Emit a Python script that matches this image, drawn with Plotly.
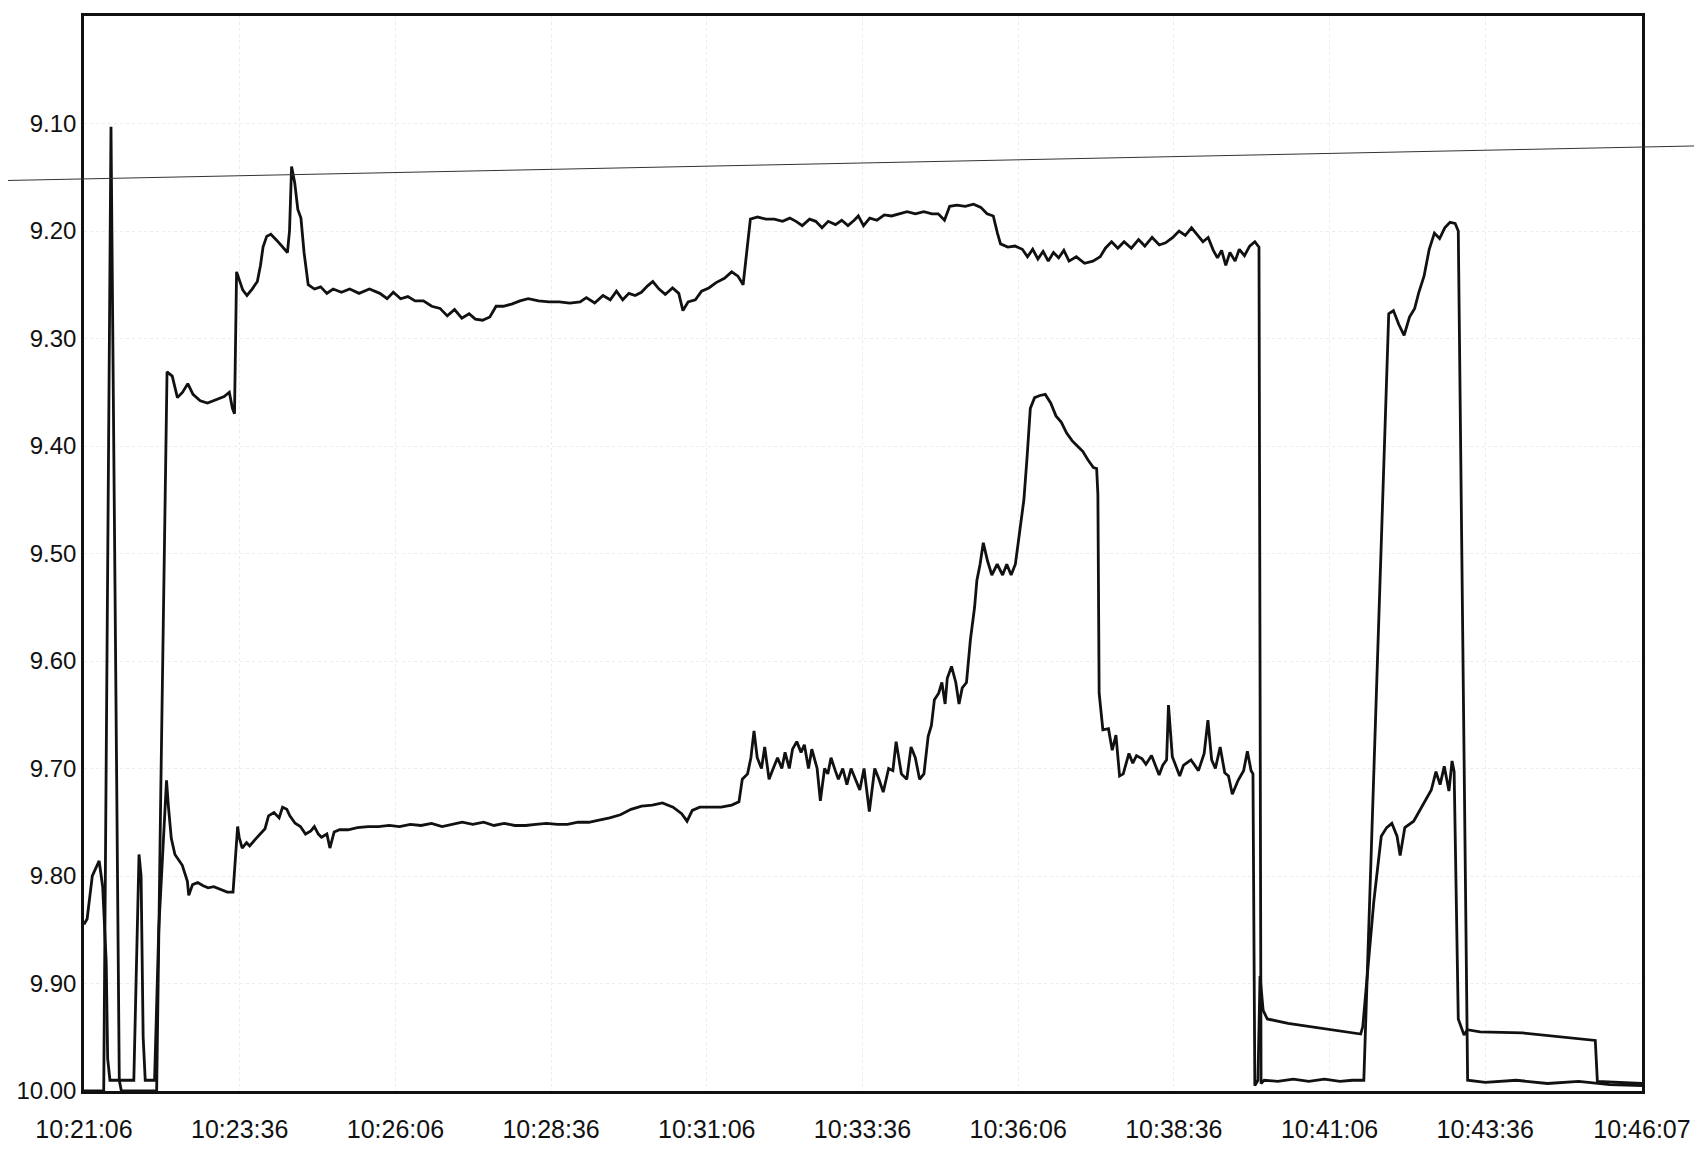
import plotly.graph_objects as go

# time in seconds after 10:21:06
tick_seconds = [0, 150, 300, 450, 600, 750, 900, 1050, 1200, 1350, 1501]
tick_labels = ["10:21:06", "10:23:36", "10:26:06", "10:28:36", "10:31:06", "10:33:36",
               "10:36:06", "10:38:36", "10:41:06", "10:43:36", "10:46:07"]
y_ticks = [9.1, 9.2, 9.3, 9.4, 9.5, 9.6, 9.7, 9.8, 9.9, 10.0]

series_a_t = [0, 19, 26, 34, 36, 70, 74, 80, 85, 90, 95, 100, 105, 112, 119, 127, 135, 140, 143, 145,
              147, 153, 157, 162, 167, 170, 172.5, 176, 180, 186, 192, 196, 198, 200, 203, 206, 209, 212,
              216, 222, 228, 234, 240, 248, 256, 265, 275, 285, 292, 298, 305, 312, 319, 327, 335, 343,
              350, 357, 364, 371, 377, 384, 391, 397, 404, 412, 420, 428, 438, 448, 458, 468, 478, 484,
              492, 500, 507, 513, 519, 525, 531, 537, 543, 548, 554, 560, 567, 573, 577, 582, 589, 595,
              602, 609, 617, 624, 630, 635, 639, 642, 649, 657, 665, 673, 680, 686, 692, 699, 705, 711,
              717, 724, 730, 736, 742, 746, 751, 757, 764, 771, 778, 786, 793, 801, 809, 817, 823, 829,
              834, 841, 849, 857, 864, 870, 876, 880, 883, 890, 897, 904, 909, 914, 919, 924, 929, 934,
              939, 944, 949, 956, 964, 972, 979, 984, 990, 996, 1002, 1009, 1016, 1022, 1029, 1036, 1042,
              1049, 1055, 1061, 1067, 1073, 1078, 1083, 1088, 1092, 1096, 1100, 1104, 1109, 1113, 1118,
              1123, 1128, 1132, 1134, 1137, 1150, 1165, 1180, 1195, 1210, 1222, 1233, 1257, 1261.5,
              1266.7, 1271.8, 1277, 1282, 1286, 1291, 1296, 1301, 1306, 1311, 1316, 1321, 1324, 1333,
              1350, 1380, 1410, 1440, 1470, 1501]
series_a_v = [10.0, 10.0, 9.103, 9.99, 10.0, 10.0, 9.72, 9.331, 9.335, 9.355, 9.35, 9.342, 9.352, 9.358,
              9.36, 9.357, 9.354, 9.35, 9.365, 9.37, 9.238, 9.255, 9.26, 9.254, 9.247, 9.232, 9.215,
              9.205, 9.203, 9.209, 9.216, 9.22, 9.2, 9.14, 9.155, 9.18, 9.188, 9.22, 9.25, 9.254, 9.252,
              9.258, 9.254, 9.257, 9.254, 9.258, 9.254, 9.258, 9.263, 9.257, 9.263, 9.261, 9.265, 9.265,
              9.27, 9.272, 9.279, 9.273, 9.281, 9.277, 9.282, 9.283, 9.28, 9.27, 9.27, 9.268, 9.265,
              9.263, 9.265, 9.266, 9.266, 9.267, 9.266, 9.262, 9.267, 9.26, 9.264, 9.256, 9.264, 9.258,
              9.26, 9.257, 9.251, 9.247, 9.254, 9.259, 9.253, 9.258, 9.274, 9.266, 9.264, 9.256, 9.253,
              9.248, 9.244, 9.238, 9.242, 9.25, 9.215, 9.189, 9.187, 9.189, 9.189, 9.191, 9.188, 9.191,
              9.195, 9.189, 9.191, 9.197, 9.191, 9.194, 9.19, 9.195, 9.19, 9.186, 9.195, 9.188, 9.19,
              9.185, 9.186, 9.184, 9.182, 9.184, 9.182, 9.184, 9.184, 9.19, 9.177, 9.176, 9.177, 9.175,
              9.178, 9.184, 9.186, 9.202, 9.212, 9.215, 9.214, 9.217, 9.224, 9.217, 9.226, 9.219, 9.228,
              9.22, 9.225, 9.218, 9.228, 9.224, 9.23, 9.228, 9.224, 9.216, 9.21, 9.216, 9.21, 9.216,
              9.208, 9.214, 9.206, 9.213, 9.211, 9.206, 9.2, 9.204, 9.197, 9.204, 9.21, 9.206, 9.218,
              9.225, 9.218, 9.232, 9.22, 9.228, 9.217, 9.223, 9.214, 9.21, 9.215, 9.993, 9.99, 9.991,
              9.989, 9.991, 9.989, 9.991, 9.99, 9.99, 9.277, 9.274, 9.287, 9.297, 9.28, 9.272, 9.257,
              9.242, 9.217, 9.202, 9.207, 9.197, 9.192, 9.193, 9.2, 9.99, 9.992, 9.99, 9.993, 9.991,
              9.994, 9.995]

series_b_t = [0, 3, 8, 14.6, 18, 21.4, 22.8, 25, 48, 51, 53, 55, 57, 59, 68, 72, 79.5, 81.3, 84.1, 87.6,
              94.7, 99.6, 100.9, 104.6, 109.6, 114.8, 119.6, 125, 130, 138, 143.6, 148, 149.5, 152.4,
              156.6, 159.6, 165, 170, 174.4, 177.8, 183, 188, 191.3, 195.4, 198.3, 203.4, 208.5, 213.4,
              218.6, 221.9, 225.8, 228.8, 234, 236.9, 241, 246.2, 254.4, 263.4, 273.7, 283.7, 294, 304,
              314.4, 324.7, 334.8, 345, 355.4, 364.4, 374.6, 385, 395, 404.8, 415, 425.4, 435.3, 445.6,
              456, 465.7, 476, 486.3, 496.2, 506.5, 516.8, 527, 537.2, 547.5, 557.3, 567.5, 575.8, 581,
              586, 593.2, 603.5, 613.8, 624, 631, 634.2, 639.3, 642.5, 645.5, 648.6, 652.7, 655.8, 660,
              664, 668.2, 672.3, 675.4, 679.5, 682.6, 686.7, 690.8, 694, 698, 701.2, 706.3, 709.4, 713.5,
              716.6, 719.7, 723.8, 726.8, 731, 735, 739, 743.3, 747.4, 751.5, 756.6, 761.8, 765.9, 770,
              775.2, 779.3, 782.4, 787.5, 792.7, 796.8, 800.9, 805, 809.2, 813.3, 816.4, 819.3, 823.4,
              826.5, 829.6, 831.7, 835.8, 839.9, 843, 846.1, 850.2, 854, 858, 860.2, 863.3, 866.4, 870.5,
              874.6, 879.8, 885, 889, 893.2, 897.3, 901.4, 905.5, 908.6, 911.7, 915.8, 921, 926.1, 931.3,
              936.4, 941.6, 946.7, 951.9, 957, 962.2, 967.3, 972.5, 975.6, 976.8, 978, 981.6, 987, 990.6,
              994.2, 997.7, 1001.2, 1006.7, 1010.4, 1014, 1019.4, 1023.1, 1028.5, 1032, 1035.8, 1039.3,
              1043, 1044.8, 1048.5, 1055.6, 1059.2, 1066.5, 1073.7, 1079.2, 1082.8, 1086.4, 1090, 1094.6,
              1099, 1102.6, 1106.3, 1111.9, 1117.2, 1120.8, 1124.4, 1126.2, 1128, 1131, 1133, 1136, 1140,
              1160, 1180, 1200, 1215, 1230, 1232, 1234, 1242.7, 1249.8, 1255, 1260, 1265, 1268, 1272.5,
              1281, 1290, 1298, 1302.5, 1306.5, 1310.5, 1315, 1318, 1320, 1324, 1326.5, 1329.6, 1332.6,
              1345, 1386, 1427, 1456, 1458, 1480, 1501]
series_b_v = [9.845, 9.84, 9.80, 9.786, 9.81, 9.88, 9.97, 9.99, 9.99, 9.85, 9.78, 9.80, 9.95, 9.99, 9.99,
              9.85, 9.711, 9.735, 9.765, 9.78, 9.79, 9.805, 9.818, 9.808, 9.806, 9.809, 9.811, 9.81,
              9.812, 9.815, 9.815, 9.754, 9.764, 9.774, 9.769, 9.772, 9.766, 9.761, 9.756, 9.744, 9.741,
              9.746, 9.736, 9.738, 9.744, 9.751, 9.754, 9.761, 9.758, 9.754, 9.761, 9.764, 9.761, 9.774,
              9.759, 9.757, 9.757, 9.755, 9.754, 9.754, 9.753, 9.754, 9.752, 9.753, 9.751, 9.754, 9.752,
              9.75, 9.752, 9.75, 9.753, 9.751, 9.753, 9.753, 9.752, 9.751, 9.752, 9.752, 9.75, 9.75,
              9.748, 9.746, 9.743, 9.738, 9.735, 9.734, 9.732, 9.736, 9.742, 9.749, 9.739, 9.736, 9.736,
              9.736, 9.734, 9.731, 9.71, 9.705, 9.69, 9.665, 9.69, 9.70, 9.68, 9.71, 9.70, 9.69, 9.70,
              9.685, 9.70, 9.682, 9.675, 9.685, 9.678, 9.70, 9.682, 9.70, 9.73, 9.70, 9.705, 9.69, 9.702,
              9.71, 9.70, 9.715, 9.70, 9.71, 9.72, 9.70, 9.74, 9.70, 9.71, 9.722, 9.70, 9.702, 9.675,
              9.705, 9.71, 9.68, 9.69, 9.71, 9.705, 9.67, 9.66, 9.636, 9.63, 9.62, 9.64, 9.616, 9.605,
              9.62, 9.64, 9.625, 9.62, 9.58, 9.55, 9.525, 9.51, 9.49, 9.507, 9.52, 9.51, 9.52, 9.51, 9.52,
              9.51, 9.48, 9.45, 9.41, 9.365, 9.355, 9.353, 9.352, 9.36, 9.372, 9.378, 9.388, 9.395, 9.40,
              9.405, 9.413, 9.42, 9.421, 9.445, 9.63, 9.664, 9.663, 9.683, 9.669, 9.707, 9.705, 9.686,
              9.695, 9.688, 9.691, 9.696, 9.688, 9.697, 9.706, 9.697, 9.692, 9.641, 9.689, 9.707, 9.697,
              9.692, 9.702, 9.686, 9.655, 9.692, 9.70, 9.68, 9.704, 9.707, 9.724, 9.711, 9.702, 9.684,
              9.702, 9.705, 9.995, 9.99, 9.893, 9.925, 9.933, 9.937, 9.94, 9.943, 9.945, 9.947, 9.94,
              9.919, 9.823, 9.763, 9.755, 9.751, 9.763, 9.781, 9.755, 9.749, 9.733, 9.72, 9.703, 9.715,
              9.698, 9.721, 9.693, 9.703, 9.933, 9.94, 9.948, 9.943, 9.945, 9.946, 9.95, 9.953, 9.991,
              9.992, 9.993]

FONT = "Arial, Liberation Sans, sans-serif"
LINE = dict(color="#111111", width=2.8)

fig = go.Figure()
fig.add_trace(go.Scatter(x=series_a_t, y=series_a_v, mode="lines", line=LINE,
                         name="A", hoverinfo="x+y"))
fig.add_trace(go.Scatter(x=series_b_t, y=series_b_v, mode="lines", line=LINE,
                         name="B", hoverinfo="x+y"))

axis_common = dict(showline=True, linecolor="#111111", linewidth=2.5, mirror=True,
                   ticks="", showgrid=True, gridcolor="#ececec", griddash="dot",
                   gridwidth=1, zeroline=False)

fig.update_xaxes(range=[0, 1501], tickmode="array", tickvals=tick_seconds,
                 ticktext=tick_labels, ticklabelstandoff=14,
                 tickfont=dict(family=FONT, size=25, color="#111111"), **axis_common)
fig.update_yaxes(range=[10.0, 9.0], tickmode="array", tickvals=y_ticks,
                 ticktext=[f"{v:.2f}" for v in y_ticks],
                 tickfont=dict(family=FONT, size=24, color="#111111"), **axis_common)

# thin stray line crossing the scanned page
fig.add_shape(type="line", xref="paper", yref="paper", x0=-0.0488, y0=0.847, x1=1.0436, y1=0.8794,
              line=dict(color="#333333", width=1))

fig.update_layout(width=1702, height=1156, showlegend=False,
                  plot_bgcolor="white", paper_bgcolor="white",
                  margin=dict(l=76, r=68, t=5, b=73),
                  font=dict(family=FONT, color="#111111"))

fig.write_html("out.html")
